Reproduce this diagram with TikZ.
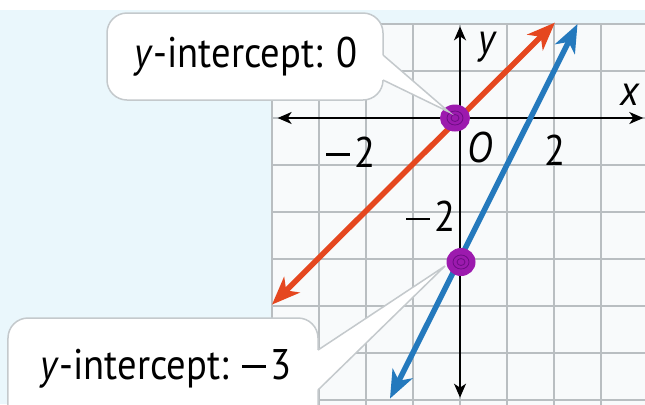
\documentclass[tikz,border=0pt]{standalone}
\usepackage{fontspec}
\setmainfont{PT Sans}[FakeStretch=0.9]
\usetikzlibrary{arrows.meta,shapes.geometric}
\newcommand\longminus{\rule[0.27em]{0.55em}{0.065em}\kern0.1em}
\definecolor{bgblue}{HTML}{EAF7FC}
\definecolor{gridgray}{HTML}{B9BEC1}
\definecolor{cellwhite}{HTML}{F8FAFB}
\definecolor{redline}{HTML}{E5471F}
\definecolor{blueline}{HTML}{2479BD}
\definecolor{dotpurple}{HTML}{9C1AAE}
\definecolor{dotdark}{HTML}{6E0C85}
\definecolor{boxedge}{HTML}{C4C9CC}
\tikzset{
  txt/.style={inner sep=0pt, font=\fontsize{43}{47}\selectfont},
  itxt/.style={inner sep=0pt, font=\fontsize{43}{47}\selectfont\itshape},
  calloutbox/.style={draw=boxedge, line width=1.5bp, fill=white, rounded corners=20bp},
  wedgeline/.style={draw=boxedge, line width=1.5bp},
  gridline/.style={draw=gridgray, line width=2bp},
  axisline/.style={draw=black, line width=1.8bp, {Stealth[length=14bp,width=12bp,inset=4bp]}-{Stealth[length=14bp,width=12bp,inset=4bp]}},
  redgraph/.style={draw=redline, line width=5.5bp, {Stealth[length=28bp,width=22bp,inset=8bp]}-{Stealth[length=28bp,width=22bp,inset=8bp]}},
  bluegraph/.style={draw=blueline, line width=5.5bp, {Stealth[length=28bp,width=22bp,inset=8bp]}-{Stealth[length=28bp,width=22bp,inset=8bp]}},
  purpledot/.style={ellipse, fill=dotpurple, draw=dotpurple, line width=1bp, inner sep=0pt},
  scribble/.style={draw=dotdark, line width=0.8bp}
}
\begin{document}
\begin{tikzpicture}[x=1bp, y=-1bp]
\useasboundingbox (0,0) rectangle (645,404);
\fill[white] (0,0) rectangle (645,404);
\fill[bgblue] (0,10) rectangle (645,404);
\begin{scope}[shift={(460,118)}, x=47bp, y=47bp]
  \fill[cellwhite] (-4,-6.1) rectangle (3.95,2);
  \draw[gridline] (-4,-6.1) grid[step={(1,1)}] (3.95,2);
  \draw[gridline] (-4,2) -- (3.95,2);
  \coordinate (xl) at (-3.88,0);
  \coordinate (xr) at (3.9,0);
  \coordinate (yb) at (0,-5.95);
  \coordinate (yt) at (0,1.95);
  \draw[axisline] (xl) -- (xr);
  \draw[axisline] (yb) -- (yt);
  \coordinate (r1) at (-4,-3.97);
  \coordinate (r2) at (2.02,2.03);
  \coordinate (b1) at (-1.49,-5.97);
  \coordinate (b2) at (2.5,2.0);
  \draw[redgraph] (r1) -- (r2);
  \draw[bluegraph] (b1) -- (b2);
  \node[itxt] (ylab) at (0.58,1.5) {y};
  \node[itxt] (xlab) at (3.62,0.5) {x};
  \node[itxt] (olab) at (0.43,-0.63) {O};
  \node[txt] (xtwo) at (2.03,-0.68) {2};
  \node[txt, anchor=east] (xmtwo) at (-1.8,-0.72) {\longminus2};
  \node[txt, anchor=east] (ymtwo) at (-0.1,-2.1) {\longminus2};
\end{scope}
% callouts
\node[calloutbox, minimum width=276bp, minimum height=87bp] (c0) at (245,56.5) {};
\node[txt] (t0) at (246,57) {\textit{y}-intercept: 0};
\node[calloutbox, minimum width=310bp, minimum height=120bp] (c3) at (163,378) {};
\node[txt] (t3) at (166,369) {\textit{y}-intercept: \longminus3};
% dots
\node[purpledot, minimum width=29bp, minimum height=26bp] (d0) at (455,118) {};
\node[purpledot, minimum width=28bp, minimum height=27bp] (d3) at (461,262) {};
\draw[scribble] (d0.center) ellipse [x radius=8bp, y radius=7bp];
\draw[scribble] (d0.center) ellipse [x radius=4bp, y radius=3.5bp];
\draw[scribble] (d3.center) ellipse [x radius=8bp, y radius=7bp];
\draw[scribble] (d3.center) ellipse [x radius=4bp, y radius=3.5bp];
% pointers
\coordinate (w0a) at (383,55);
\coordinate (w0b) at (383,80);
\coordinate (w0tip) at (449,112);
\fill[white] (370,55) -- (w0a) -- (w0tip) -- (w0b) -- (370,80) -- cycle;
\draw[wedgeline] (w0a) -- (w0tip) -- (w0b);
\coordinate (w3a) at (318,350);
\coordinate (w3b) at (318,390);
\coordinate (w3tip) at (445,266);
\fill[white] (305,350) -- (w3a) -- (w3tip) -- (w3b) -- (305,390) -- cycle;
\draw[wedgeline] (w3a) -- (w3tip) -- (w3b);
\end{tikzpicture}
\end{document}
